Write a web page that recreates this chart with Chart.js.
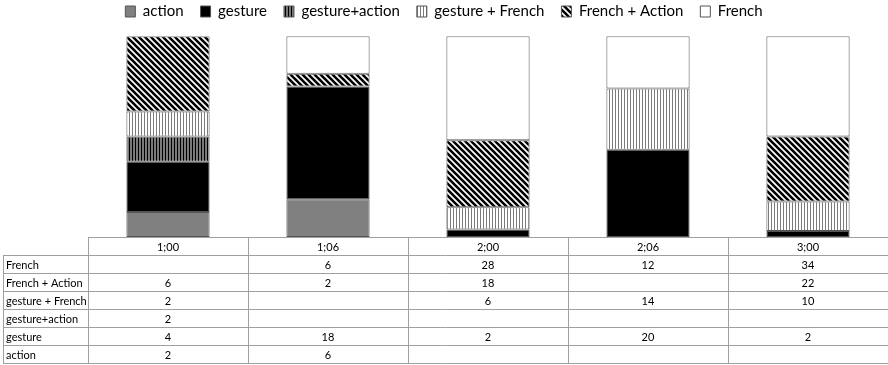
<!DOCTYPE html>
<html>
<head>
<meta charset="utf-8">
<script src="https://cdn.jsdelivr.net/npm/chart.js@4/dist/chart.umd.min.js"></script>
<style>
body { margin: 0; background: #fff; }
</style>
</head>
<body>
<canvas id="myChart" width="888" height="365"></canvas>
<script>
// ages in the table header
var ages = ['1;00', '1;06', '2;00', '2;06', '3;00'];

// counts per age, null where the table cell is empty
var action = [2, 6, null, null, null];
var gesture = [4, 18, 2, 20, 2];
var gestureAction = [2, null, null, null, null];
var gestureFrench = [2, null, 6, 14, 10];
var frenchAction = [6, 2, 18, null, 22];
var french = [null, 6, 28, 12, 34];

var seriesNames = ['action', 'gesture', 'gesture+action', 'gesture + French', 'French + Action', 'French'];
var seriesValues = [action, gesture, gestureAction, gestureFrench, frenchAction, french];

// table rows go top to bottom, opposite of the stack
var tableNames = ['French', 'French + Action', 'gesture + French', 'gesture+action', 'gesture', 'action'];
var tableValues = [french, frenchAction, gestureFrench, gestureAction, gesture, action];

var makePattern = function(w, h, draw) {
    var c = document.createElement('canvas');
    c.width = w;
    c.height = h;
    var x = c.getContext('2d');
    draw(x, w, h);
    return x.createPattern(c, 'repeat');
};

var vStripes = function(bg, fg) {
    return makePattern(3, 3, function(x, w, h) {
        x.fillStyle = bg;
        x.fillRect(0, 0, w, h);
        x.fillStyle = fg;
        x.fillRect(0, 0, 1, h);
    });
};

var diagStripes = makePattern(6, 6, function(x, w, h) {
    x.fillStyle = '#fff';
    x.fillRect(0, 0, w, h);
    x.strokeStyle = '#000';
    x.lineWidth = 2.6;
    x.beginPath();
    for (var k = -1; k <= 1; k++) {
        x.moveTo(k * w - 1, -1);
        x.lineTo(k * w + w + 1, h + 1);
    }
    x.stroke();
});

var fills = [
    '#808080',
    '#000000',
    makePattern(3, 3, function(x, w, h) {
        x.fillStyle = '#7a7a7a';
        x.fillRect(0, 0, w, h);
        x.fillStyle = '#000';
        x.fillRect(0, 0, 1, h);
    }),
    vStripes('#ffffff', '#7a7a7a'),
    diagStripes,
    '#ffffff'
];

var totals = ages.map(function(a, i) {
    return seriesValues.reduce(function(sum, s) {
        return sum + (s[i] || 0);
    }, 0);
});

var datasets = seriesNames.map(function(name, n) {
    return {
        label: name,
        data: seriesValues[n].map(function(v, i) {
            return v == null ? null : v / totals[i] * 100;
        }),
        backgroundColor: fills[n],
        borderColor: '#555',
        borderWidth: 1,
        borderSkipped: false,
        barPercentage: 0.52,
        categoryPercentage: 1
    };
});

var tablePlugin = {
    id: 'dataTable',
    afterDraw: function(chart) {
        var ctx = chart.ctx;
        var xs = chart.scales.x;
        var area = chart.chartArea;
        var colW = xs.width / ages.length;
        var rowH = 18;
        var top = area.bottom;
        var left = 3;
        var rows = tableNames.length;
        var bottom = top + rowH * (rows + 1);

        ctx.save();
        ctx.strokeStyle = '#a0a0a0';
        ctx.lineWidth = 1;
        ctx.beginPath();
        ctx.moveTo(area.left, top + 0.5);
        ctx.lineTo(area.right, top + 0.5);
        for (var r = 1; r <= rows + 1; r++) {
            var y = top + r * rowH + 0.5;
            ctx.moveTo(left, y);
            ctx.lineTo(area.right, y);
        }
        ctx.moveTo(left + 0.5, top + rowH);
        ctx.lineTo(left + 0.5, bottom + 1);
        for (var c = 0; c <= ages.length; c++) {
            var x = Math.round(area.left + c * colW) + 0.5;
            ctx.moveTo(x, top);
            ctx.lineTo(x, bottom + 1);
        }
        ctx.stroke();

        ctx.fillStyle = '#000';
        ctx.font = '11px Lato';
        ctx.textBaseline = 'middle';
        ctx.textAlign = 'center';
        ages.forEach(function(a, i) {
            ctx.fillText(a, xs.getPixelForValue(i), top + rowH / 2 + 1);
        });
        tableNames.forEach(function(name, r) {
            var y = top + (r + 1) * rowH + rowH / 2 + 1;
            ctx.textAlign = 'left';
            ctx.fillText(name, left + 3, y);
            ctx.textAlign = 'center';
            tableValues[r].forEach(function(v, i) {
                if (v != null)
                    ctx.fillText(String(v), xs.getPixelForValue(i), y);
            });
        });
        ctx.restore();
    }
};

var config = {
    type: 'bar',
    data: {
        labels: ages,
        datasets: datasets
    },
    options: {
        responsive: false,
        animation: false,
        layout: {
            padding: { top: -13, left: 0, right: 0, bottom: 0 }
        },
        plugins: {
            legend: {
                position: 'top',
                labels: {
                    color: '#000',
                    font: { family: 'Lato', size: 15 },
                    boxWidth: 10,
                    boxHeight: 11,
                    padding: 17
                }
            },
            // empty title used as a spacer between legend and bars
            title: {
                display: true,
                text: '',
                weight: 500,
                padding: 0,
                font: { size: 6 }
            },
            tooltip: { enabled: false }
        },
        scales: {
            x: {
                stacked: true,
                grid: { display: false },
                border: { display: false },
                ticks: { display: false },
                afterFit: function(scale) {
                    scale.height = 128;
                }
            },
            y: {
                stacked: true,
                min: 0,
                max: 100,
                grid: { display: false },
                border: { display: false },
                ticks: { display: false },
                afterFit: function(scale) {
                    scale.width = 88;
                }
            }
        }
    },
    plugins: [tablePlugin]
};

var myChart = new Chart(document.getElementById('myChart').getContext('2d'), config);
</script>
</body>
</html>
